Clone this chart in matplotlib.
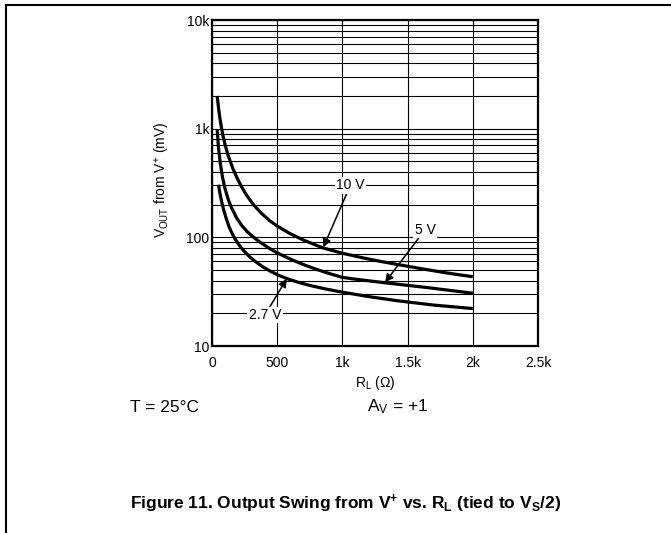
import numpy as np
import matplotlib.pyplot as plt
from matplotlib.lines import Line2D
from matplotlib.ticker import FixedLocator, LogLocator, NullFormatter

plt.rcParams['font.family'] = ['Liberation Sans', 'DejaVu Sans']
plt.rcParams['mathtext.fontset'] = 'custom'
plt.rcParams['mathtext.rm'] = 'Liberation Sans'
plt.rcParams['mathtext.it'] = 'Liberation Sans:italic'
plt.rcParams['mathtext.bf'] = 'Liberation Sans:bold'

# load resistance (ohm) and output swing from V+ (mV)
r_10v = [40, 50, 60, 72, 85, 100, 125, 160, 195, 230, 265, 320, 380, 440, 500, 600,
         700, 850, 1000, 1150, 1300, 1450, 1600, 1800, 2000]
v_10v = [2000, 1552, 1262, 1028, 854, 714, 561, 430, 346, 287, 244, 198, 166, 143, 127, 108,
         94.5, 80, 71.4, 65, 59.8, 55.5, 51.6, 47, 43.4]

r_5v = [40, 50, 65, 80, 100, 125, 150, 190, 230, 270, 300, 340, 375, 440, 500, 600,
        700, 800, 900, 1000, 1100, 1340, 1650, 2000]
v_5v = [970, 661, 468, 360, 280, 222, 187, 150, 127.5, 112.9, 104.7, 95.7, 89.2, 79.2, 71.9, 63.1,
        56.2, 50.8, 46.4, 42.8, 41.2, 38, 34.5, 30.6]

r_27v = [50, 57, 65, 77, 90, 110, 130, 150, 175, 210, 250, 290, 330, 390, 450, 510, 575,
         660, 750, 860, 980, 1200, 1420, 1700, 2000]
v_27v = [305, 270, 240, 205, 178, 148, 126, 111, 97.4, 84.2, 73.7, 66, 60.2, 53.5, 48.6, 44.8, 41.7,
         38.6, 36.1, 33.7, 31.6, 28.5, 26.1, 23.8, 22.1]

x_ticks = [0, 500, 1000, 1500, 2000, 2500]
x_labels = ['0', '500', '1k', '1.5k', '2k', '2.5k']
y_ticks = [10, 100, 1000, 10000]
y_labels = ['10', '100', '1k', '10k']

W, H = 671, 533


def fx(x):
    return x / W


def fy(y):
    return 1 - y / H


fig = plt.figure(figsize=(W / 100, H / 100), dpi=100)
ax = fig.add_axes([fx(212), fy(346), 326 / W, 326 / H])

for r, v in [(r_10v, v_10v), (r_5v, v_5v), (r_27v, v_27v)]:
    ax.plot(r, v, color='black', lw=2.3, solid_capstyle='butt', solid_joinstyle='round', zorder=3)

ax.set_yscale('log')
ax.set_xlim(0, 2500)
ax.set_ylim(10, 10000)
ax.xaxis.set_major_locator(FixedLocator(x_ticks))
ax.set_xticklabels(x_labels)
ax.yaxis.set_major_locator(FixedLocator(y_ticks))
ax.set_yticklabels(y_labels)
ax.yaxis.set_minor_locator(LogLocator(base=10, subs=np.arange(2, 10)))
ax.yaxis.set_minor_formatter(NullFormatter())
ax.tick_params(which='both', length=0, labelsize=10, colors='black')
ax.tick_params(axis='x', pad=7)
ax.tick_params(axis='y', pad=2)
ax.grid(True, which='both', axis='y', color='black', lw=0.8)
ax.grid(True, which='major', axis='x', color='black', lw=0.8)
for s in ax.spines.values():
    s.set_linewidth(1.6)

arrow = dict(arrowstyle='-|>', color='black', lw=1.1, mutation_scale=12, shrinkA=0, shrinkB=0)
box = dict(facecolor='white', edgecolor='none', pad=1)
ax.annotate('10 V', xy=(854, 81), xytext=(1060, 300), ha='center', va='center',
            fontsize=10, bbox=box, arrowprops=arrow, zorder=4)
ax.annotate('5 V', xy=(1327, 38.5), xytext=(1633, 117), ha='center', va='center',
            fontsize=10, bbox=box, arrowprops=arrow, zorder=4)
ax.annotate('2.7 V', xy=(573, 41.6), xytext=(406, 19.3), ha='center', va='center',
            fontsize=10, bbox=box, arrowprops=arrow, zorder=4)

fig.text(fx(162), fy(180), r'V$_{\mathrm{OUT}}$ from V$^{+}$ (mV)', rotation=90,
         ha='center', va='center', fontsize=10)
fig.text(fx(375), fy(383), r'R$_{\mathrm{L}}$ ($\Omega$)', ha='center', va='center', fontsize=10)
fig.text(fx(130), fy(407), 'T = 25°C', ha='left', va='center', fontsize=12.5)
fig.text(fx(367), fy(407), r'A$_{\mathrm{V}}$ = +1', ha='left', va='center', fontsize=12.5)
fig.text(fx(346), fy(504), r'Figure 11. Output Swing from V$^{\mathbf{+}}$ vs. R$_{\mathbf{L}}$ '
         r'(tied to V$_{\mathbf{S}}$/2)', ha='center', va='center', fontsize=12.5,
         fontweight='bold')

# page frame: rule across the top and down the left side
fig.add_artist(Line2D([fx(6), 1], [fy(5), fy(5)], color='black', lw=1.5))
fig.add_artist(Line2D([fx(6), fx(6)], [fy(5), 0], color='black', lw=1.5))

fig.savefig('out.png', dpi=100)
